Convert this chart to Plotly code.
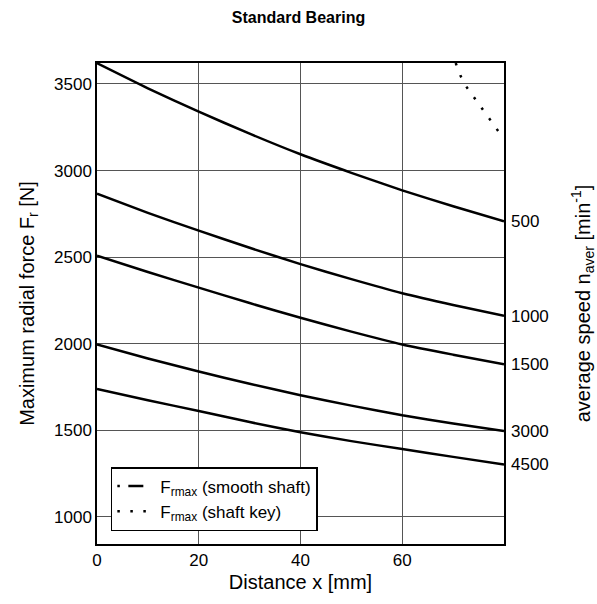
import plotly.graph_objects as go

# ---- data ----
distance_mm = [0, 10, 20, 30, 40, 50, 60, 70, 80]
speeds = ["500", "1000", "1500", "3000", "4500"]
f_500 = [3620, 3475, 3340, 3213, 3094, 2987, 2886, 2794, 2707]
f_1000 = [2866, 2756, 2653, 2554, 2460, 2373, 2292, 2224, 2161]
f_1500 = [2508, 2414, 2324, 2235, 2150, 2070, 1996, 1937, 1882]
f_3000 = [1996, 1915, 1840, 1769, 1703, 1643, 1587, 1540, 1497]
f_4500 = [1739, 1674, 1612, 1548, 1489, 1438, 1392, 1347, 1303]
curves = [f_500, f_1000, f_1500, f_3000, f_4500]

key_x = [70.5, 71.5, 72.7, 74.1, 75.5, 76.9, 78.4, 79.8]
key_f = [3621, 3544, 3480, 3423, 3360, 3302, 3246, 3190]

x_ticks = [0, 20, 40, 60]
y_ticks = [1000, 1500, 2000, 2500, 3000, 3500]

FONT = "Liberation Sans, Arial, Helvetica, sans-serif"
Y_RANGE = [844, 3621]

fig = go.Figure()
for vals, sp in zip(curves, speeds):
    fig.add_trace(go.Scatter(x=distance_mm, y=vals, mode="lines", name=sp,
                             line=dict(color="black", width=2.5, shape="spline",
                                       smoothing=0.6),
                             showlegend=False))

fig.add_trace(go.Scatter(x=key_x, y=key_f, mode="lines", showlegend=False,
                         line=dict(color="black", width=2.5, dash="2.5px,10.5px")))

# legend entries
fig.add_trace(go.Scatter(x=[None], y=[None], mode="lines",
                         name="F<sub>rmax</sub> (smooth shaft)",
                         line=dict(color="black", width=2.5, dash="2.5px,8.5px,15px,60px")))
fig.add_trace(go.Scatter(x=[None], y=[None], mode="lines",
                         name="F<sub>rmax</sub> (shaft key)",
                         line=dict(color="black", width=2.5, dash="2.5px,10.5px")))

# right-hand axis labelling the curves by speed
fig.add_trace(go.Scatter(x=[None], y=[None], yaxis="y2", showlegend=False))

fig.update_layout(
    width=597, height=604,
    margin=dict(l=97, r=93, t=63, b=60),
    paper_bgcolor="white", plot_bgcolor="white",
    font=dict(family=FONT, color="black", size=17),
    title=dict(text="<b>Standard Bearing</b>", x=0.5, xanchor="center",
               y=0.972, yanchor="middle",
               font=dict(family=FONT, size=16)),
    xaxis=dict(range=[0, 80], tickvals=x_ticks, showgrid=True, gridcolor="#555",
               gridwidth=1, showline=True, linecolor="black", linewidth=1.5,
               mirror=True, zeroline=False, ticks="", tickfont=dict(size=17),
               automargin=False,
               title=dict(text="Distance x [mm]", font=dict(size=20), standoff=6)),
    yaxis=dict(range=Y_RANGE, tickvals=y_ticks, showgrid=True, gridcolor="#555",
               gridwidth=1, showline=True, linecolor="black", linewidth=1.5,
               mirror=True, zeroline=False, ticks="", tickfont=dict(size=17),
               automargin=False,
               title=dict(text="Maximum radial force F<sub>r</sub> [N]",
                          font=dict(size=20), standoff=14)),
    yaxis2=dict(range=Y_RANGE, overlaying="y", side="right",
                tickvals=[c[-1] for c in curves], ticktext=speeds,
                showgrid=False, zeroline=False, showline=False, ticks="",
                ticklabelstandoff=6, tickfont=dict(size=17), automargin=False,
                title=dict(text="average speed n<sub>aver</sub> [min<sup>-1</sup>]",
                           font=dict(size=20), standoff=28)),
    legend=dict(x=0.034, y=0.027, xanchor="left", yanchor="bottom",
                bgcolor="white", bordercolor="black", borderwidth=1.5,
                font=dict(size=17), tracegroupgap=0, itemwidth=38),
)

fig.write_html("out.html", config={"displayModeBar": False},
               post_script="document.body.style.margin='0';")
